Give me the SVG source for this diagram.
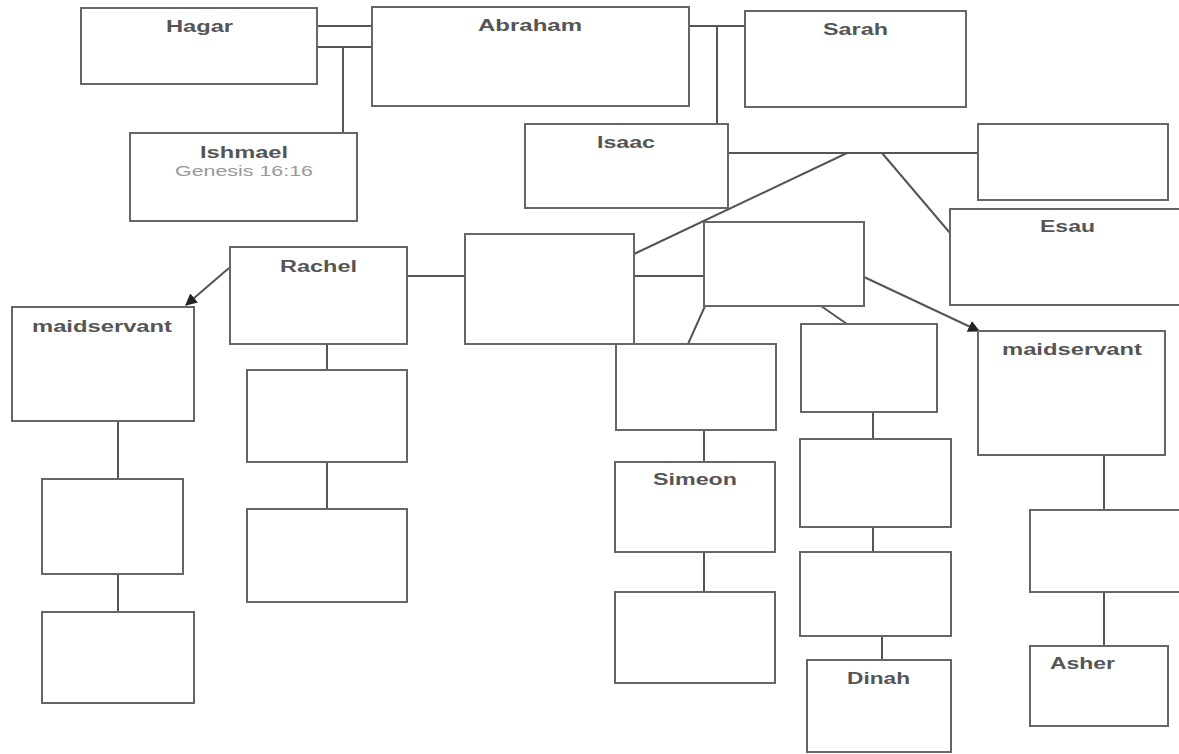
<svg xmlns="http://www.w3.org/2000/svg" width="1179" height="754" viewBox="0 0 1179 754">
<style>
.box{fill:#fff;stroke:#666;stroke-width:2}
.ln{stroke:#555;stroke-width:2;fill:none}
.lbl{font-family:"Liberation Sans",Arial,sans-serif;font-weight:bold;font-size:16px;fill:#555}
.sub{font-family:"Liberation Sans",Arial,sans-serif;font-size:15px;fill:#999}
</style>
<defs>
<marker id="ah" viewBox="0 0 10 10" refX="9" refY="5" markerWidth="6" markerHeight="6" orient="auto" markerUnits="strokeWidth">
<path d="M0,0 L10,5 L0,10 z" fill="#222"/>
</marker>
</defs>
<rect width="1179" height="754" fill="#fff"/>
<g id="connectors">
<line class="ln" x1="317" y1="26" x2="372" y2="26"/>
<line class="ln" x1="317" y1="47" x2="372" y2="47"/>
<line class="ln" x1="343" y1="47" x2="343" y2="133"/>
<line class="ln" x1="689" y1="26" x2="745" y2="26"/>
<line class="ln" x1="717" y1="26" x2="717" y2="124"/>
<line class="ln" x1="728" y1="153" x2="978" y2="153"/>
<line class="ln" x1="847" y1="153" x2="634" y2="254"/>
<line class="ln" x1="882" y1="153" x2="950" y2="233"/>
<line class="ln" x1="407" y1="276" x2="465" y2="276"/>
<line class="ln" x1="634" y1="276" x2="704" y2="276"/>
<line class="ln" x1="229" y1="268" x2="186" y2="305" stroke="#333" marker-end="url(#ah)"/>
<line class="ln" x1="864" y1="277" x2="979" y2="331" stroke="#333" marker-end="url(#ah)"/>
<line class="ln" x1="705" y1="306" x2="688" y2="344"/>
<line class="ln" x1="821" y1="306" x2="847" y2="324"/>
<line class="ln" x1="327" y1="344" x2="327" y2="370"/>
<line class="ln" x1="327" y1="462" x2="327" y2="509"/>
<line class="ln" x1="118" y1="421" x2="118" y2="482"/>
<line class="ln" x1="118" y1="574" x2="118" y2="617"/>
<line class="ln" x1="704" y1="430" x2="704" y2="462"/>
<line class="ln" x1="704" y1="552" x2="704" y2="592"/>
<line class="ln" x1="873" y1="412" x2="873" y2="439"/>
<line class="ln" x1="873" y1="527" x2="873" y2="552"/>
<line class="ln" x1="882" y1="636" x2="882" y2="660"/>
<line class="ln" x1="1104" y1="447" x2="1104" y2="510"/>
<line class="ln" x1="1104" y1="592" x2="1104" y2="646"/>
</g>
<g id="hagar"><rect class="box" x="81" y="8" width="236" height="76"/><text class="lbl" x="166" y="32" textLength="67" lengthAdjust="spacingAndGlyphs">Hagar</text></g>
<g id="abraham"><rect class="box" x="372" y="7" width="317" height="99"/><text class="lbl" x="478" y="31" textLength="104" lengthAdjust="spacingAndGlyphs">Abraham</text></g>
<g id="sarah"><rect class="box" x="745" y="11" width="221" height="96"/><text class="lbl" x="823" y="35" textLength="65" lengthAdjust="spacingAndGlyphs">Sarah</text></g>
<g id="ishmael"><rect class="box" x="130" y="133" width="227" height="88"/><text class="lbl" x="200" y="158" textLength="88" lengthAdjust="spacingAndGlyphs">Ishmael</text><text class="sub" x="175" y="176" textLength="138" lengthAdjust="spacingAndGlyphs">Genesis 16:16</text></g>
<g id="isaac"><rect class="box" x="525" y="124" width="203" height="84"/><text class="lbl" x="597" y="148" textLength="58" lengthAdjust="spacingAndGlyphs">Isaac</text></g>
<g id="isaac-wife"><rect class="box" x="978" y="124" width="190" height="76"/></g>
<g id="esau"><rect class="box" x="950" y="209" width="235" height="96"/><text class="lbl" x="1040" y="232" textLength="55" lengthAdjust="spacingAndGlyphs">Esau</text></g>
<g id="rachel"><rect class="box" x="230" y="247" width="177" height="97"/><text class="lbl" x="280" y="272" textLength="77" lengthAdjust="spacingAndGlyphs">Rachel</text></g>
<g id="maidservant-left"><rect class="box" x="12" y="307" width="182" height="114"/><text class="lbl" x="32" y="332" textLength="140" lengthAdjust="spacingAndGlyphs">maidservant</text></g>
<g id="leah"><rect class="box" x="465" y="234" width="169" height="110"/></g>
<g id="jacob"><rect class="box" x="704" y="222" width="160" height="84"/></g>
<g id="son-a"><rect class="box" x="616" y="344" width="160" height="86"/></g>
<g id="col-1"><rect class="box" x="801" y="324" width="136" height="88"/></g>
<g id="maidservant-right"><rect class="box" x="978" y="331" width="187" height="124"/><text class="lbl" x="1002" y="355" textLength="140" lengthAdjust="spacingAndGlyphs">maidservant</text></g>
<g id="rachel-child-1"><rect class="box" x="247" y="370" width="160" height="92"/></g>
<g id="rachel-child-2"><rect class="box" x="247" y="509" width="160" height="93"/></g>
<g id="maid-child-1"><rect class="box" x="42" y="479" width="141" height="95"/></g>
<g id="maid-child-2"><rect class="box" x="42" y="612" width="152" height="91"/></g>
<g id="simeon"><rect class="box" x="615" y="462" width="160" height="90"/><text class="lbl" x="653" y="485" textLength="84" lengthAdjust="spacingAndGlyphs">Simeon</text></g>
<g id="son-c"><rect class="box" x="615" y="592" width="160" height="91"/></g>
<g id="col-2"><rect class="box" x="800" y="439" width="151" height="88"/></g>
<g id="col-3"><rect class="box" x="800" y="552" width="151" height="84"/></g>
<g id="dinah"><rect class="box" x="807" y="660" width="144" height="92"/><text class="lbl" x="847" y="684" textLength="63" lengthAdjust="spacingAndGlyphs">Dinah</text></g>
<g id="right-child"><rect class="box" x="1030" y="510" width="160" height="82"/></g>
<g id="asher"><rect class="box" x="1030" y="646" width="138" height="80"/><text class="lbl" x="1050" y="669" textLength="65" lengthAdjust="spacingAndGlyphs">Asher</text></g>
</svg>
